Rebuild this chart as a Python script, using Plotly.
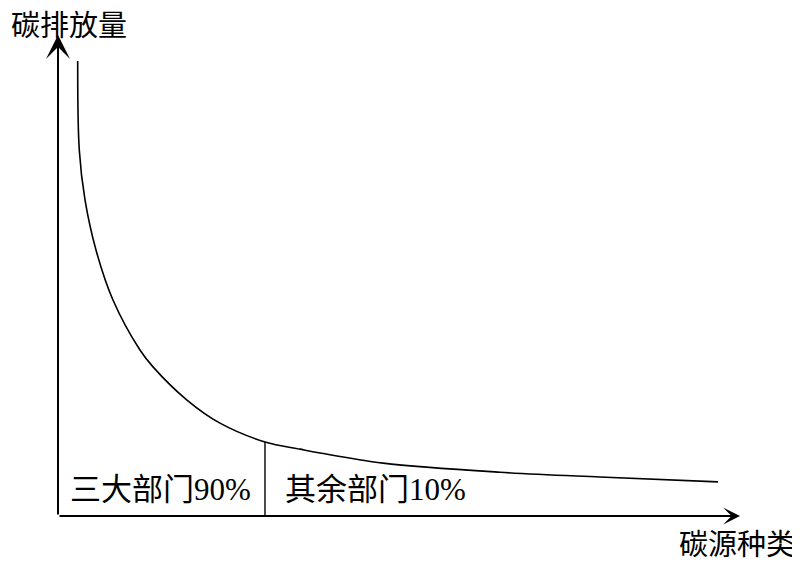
import plotly.graph_objects as go

# Emission curve (arbitrary units)
source_x = [2.89, 3.12, 3.96, 5.57, 8.06, 12.02, 13.93, 18.91, 23.75,
            30.35, 35.48, 38.42, 47.65, 64.81, 79.47, 96.77]
emission_y = [94.6, 76.1, 65.7, 55.3, 44.9, 34.5, 31.0, 24.1, 19.3,
              15.4, 13.9, 13.1, 11.0, 9.1, 8.1, 7.1]

split_x = 30.35
split_y = 15.4

y_title = "碳排放量"
x_title = "碳源种类"
left_label = "三大部门90%"
right_label = "其余部门10%"

font_family = "Liberation Serif, Noto Sans CJK SC, serif"

fig = go.Figure()

fig.add_trace(go.Scatter(
    x=source_x, y=emission_y, mode="lines",
    line=dict(color="black", width=1.6, shape="spline", smoothing=1.0),
    hoverinfo="skip", showlegend=False,
))

fig.add_trace(go.Scatter(
    x=[split_x, split_x], y=[0, split_y], mode="lines",
    line=dict(color="black", width=1.4),
    hoverinfo="skip", showlegend=False,
))

# figure is 792x556 (page has an 8px body margin); plot area spans
# x 50..732, y 27..508 in figure pixels
W, H = 792, 556
L, R, T, B = 50, 60, 27, 48
pw, ph = W - L - R, H - T - B


def px_x(px):
    return (px - 8 - L) / pw


def px_y(py):
    return (H - B - (py - 8)) / ph


annotations = [
    dict(x=0, y=100, ax=0, ay=0, xref="x", yref="y", axref="x", ayref="y",
         showarrow=True, arrowhead=3, arrowsize=2.0, arrowwidth=2,
         arrowcolor="black", standoff=0, startstandoff=0, text=""),
    dict(x=100, y=0, ax=0, ay=0, xref="x", yref="y", axref="x", ayref="y",
         showarrow=True, arrowhead=3, arrowsize=1.4, arrowwidth=2,
         arrowcolor="black", standoff=0, startstandoff=0, text=""),
    dict(x=px_x(10), y=px_y(9), xref="paper", yref="paper", text=y_title,
         showarrow=False, xanchor="left", yanchor="top", borderpad=0,
         font=dict(family=font_family, size=29, color="black")),
    dict(x=px_x(796), y=px_y(562), xref="paper", yref="paper", text=x_title,
         showarrow=False, xanchor="right", yanchor="bottom", borderpad=0,
         font=dict(family=font_family, size=29, color="black")),
    dict(x=px_x(160), y=px_y(489), xref="paper", yref="paper", text=left_label,
         showarrow=False, xanchor="center", yanchor="middle",
         font=dict(family=font_family, size=31, color="black")),
    dict(x=px_x(375.5), y=px_y(489), xref="paper", yref="paper", text=right_label,
         showarrow=False, xanchor="center", yanchor="middle",
         font=dict(family=font_family, size=31, color="black")),
]

fig.update_layout(
    width=W, height=H,
    margin=dict(l=L, r=R, t=T, b=B),
    paper_bgcolor="white", plot_bgcolor="white",
    xaxis=dict(range=[0, 100], visible=False, fixedrange=True),
    yaxis=dict(range=[0, 100], visible=False, fixedrange=True),
    annotations=annotations,
    showlegend=False,
)

fig.write_html("out.html")
